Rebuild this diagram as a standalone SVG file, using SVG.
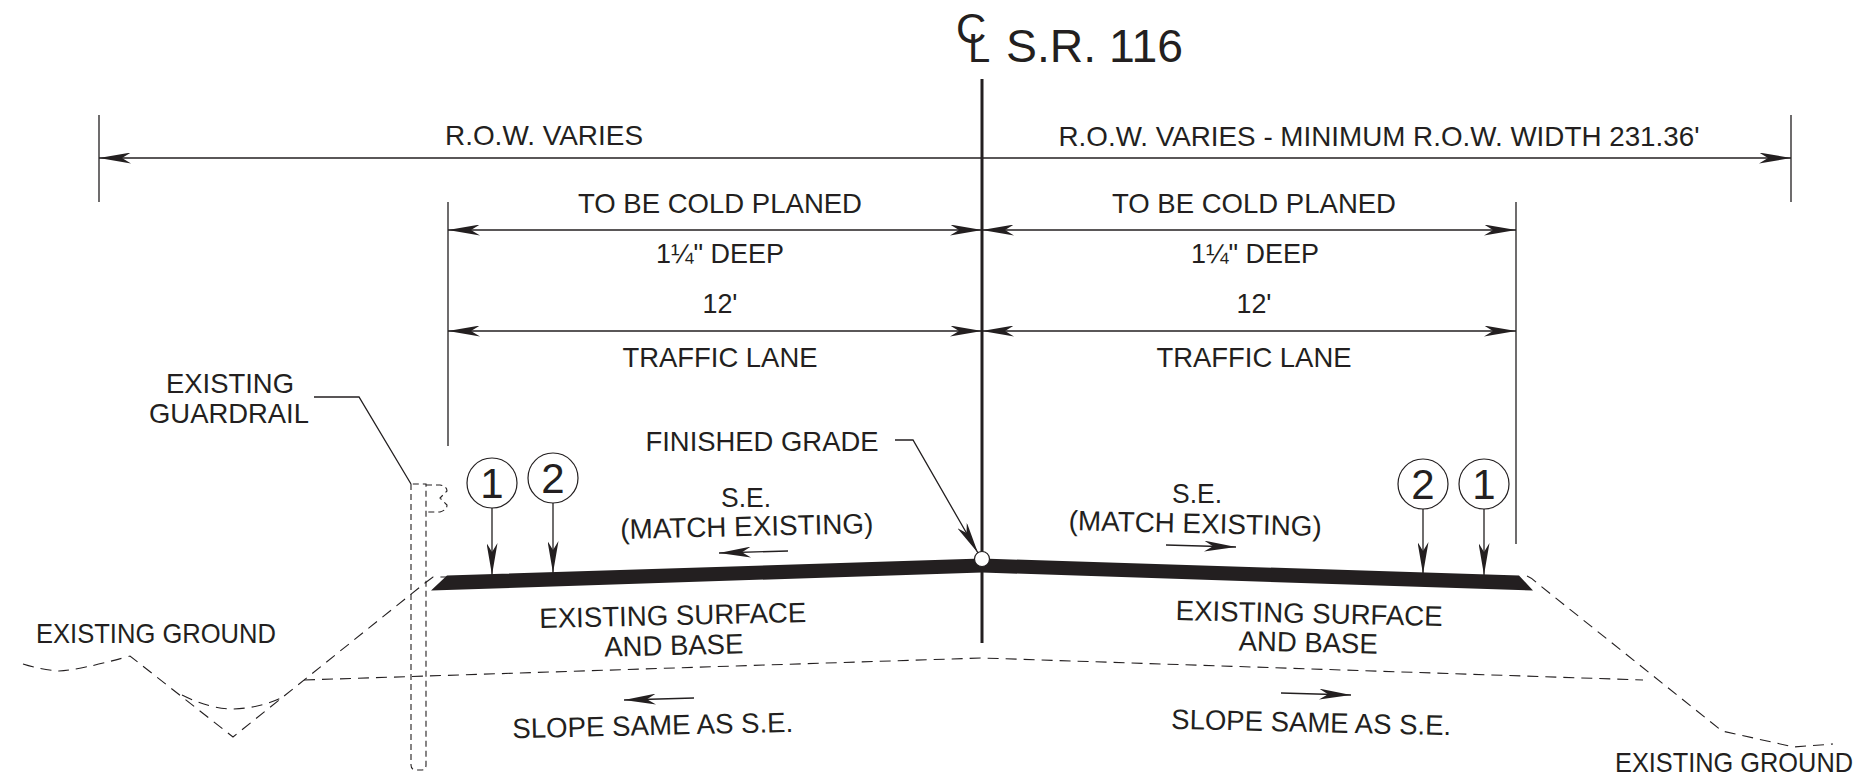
<svg xmlns="http://www.w3.org/2000/svg" width="1862" height="780" viewBox="0 0 1862 780">
<style>
text{font-family:"Liberation Sans",Arial,sans-serif;font-size:28px;fill:#231f20;text-anchor:middle}
.l{fill:none;stroke:#231f20;stroke-width:1.3}
.a{marker-end:url(#barb)}
.d{marker-start:url(#barb);marker-end:url(#barb)}
.dash{fill:none;stroke:#231f20;stroke-width:1.1;stroke-dasharray:11 7}
.short{fill:none;stroke:#231f20;stroke-width:1.1;stroke-dasharray:6 4}
.c{fill:#fff;stroke:#231f20;stroke-width:1.2}
.n{font-size:42px}
</style>
<defs>
<marker id="barb" viewBox="0 0 32 11" refX="32" refY="5.5" markerWidth="32" markerHeight="11" markerUnits="userSpaceOnUse" orient="auto-start-reverse">
<path d="M32 5.5L0 0L9 5.5L0 11Z" fill="#231f20"/>
</marker>
</defs>
<rect width="1862" height="780" fill="#fff"/>
<g id="connectors">
<path class="l" d="M99 115V202M1791 115V202M448 202V446M1516 202V544"/>
<line class="l d" x1="99" y1="158" x2="1791" y2="158"/>
<line class="l d" x1="448" y1="230" x2="982" y2="230"/>
<line class="l d" x1="982" y1="230" x2="1516" y2="230"/>
<line class="l d" x1="448" y1="331" x2="982" y2="331"/>
<line class="l d" x1="982" y1="331" x2="1516" y2="331"/>
<line x1="982" y1="79" x2="982" y2="643" stroke="#231f20" stroke-width="3"/>
<path class="l" d="M314 397H359L411 484"/>
<path class="l a" d="M895 440H913L978 553"/>
<line class="l a" x1="492" y1="508" x2="492" y2="575"/>
<line class="l a" x1="553" y1="503" x2="553" y2="573"/>
<line class="l a" x1="1423" y1="509" x2="1423" y2="574"/>
<line class="l a" x1="1484" y1="509" x2="1484" y2="575"/>
<line class="l a" x1="788" y1="551" x2="719" y2="553"/>
<line class="l a" x1="1166" y1="545" x2="1236" y2="547"/>
<line class="l a" x1="694" y1="698" x2="624" y2="700"/>
<line class="l a" x1="1281" y1="693" x2="1351" y2="695"/>
</g>
<g id="pavement">
<path d="M447 575.5L982 558.5L1519 575.5L1533 590.5L982 572.5L431 590.5Z" fill="#231f20"/>
<circle class="c" cx="982" cy="559" r="7.5"/>
</g>
<g id="existing-ground">
<path class="dash" d="M23 664Q42 670 59 671Q80 670 130 656L233 737L425 583L433 577H447"/>
<path class="dash" d="M182 695Q210 709 233 709Q260 708 281 698"/>
<path class="dash" d="M304 680L982 658L1643 680"/>
<path class="dash" d="M1527 576Q1532 578 1537 583L1722 731L1794 747L1833 744"/>
</g>
<g id="guardrail">
<path class="short" d="M411 484V765Q411 770 416 770H421Q426 770 426 765V484H411"/>
<path class="short" d="M426 485H440Q447 486 447 491L440 498L447 505Q447 510 440 512H426"/>
</g>
<g id="callout-1-left"><circle class="c" cx="492" cy="483" r="25"/><text class="n" x="492" y="498">1</text></g>
<g id="callout-2-left"><circle class="c" cx="553" cy="478" r="25"/><text class="n" x="553" y="493">2</text></g>
<g id="callout-2-right"><circle class="c" cx="1423" cy="484" r="25"/><text class="n" x="1423" y="499">2</text></g>
<g id="callout-1-right"><circle class="c" cx="1484" cy="484" r="25"/><text class="n" x="1484" y="499">1</text></g>
<g id="labels">
<text x="956" y="43" style="font-size:42px;text-anchor:start">C</text>
<text x="968" y="62" style="font-size:40px;text-anchor:start">L</text>
<text x="1006" y="62" textLength="177" lengthAdjust="spacingAndGlyphs" style="font-size:46px;text-anchor:start">S.R. 116</text>
<text x="544" y="145" textLength="198" lengthAdjust="spacingAndGlyphs">R.O.W. VARIES</text>
<text x="1379" y="146" textLength="641" lengthAdjust="spacingAndGlyphs">R.O.W. VARIES - MINIMUM R.O.W. WIDTH 231.36'</text>
<text x="720" y="213" textLength="284" lengthAdjust="spacingAndGlyphs">TO BE COLD PLANED</text>
<text x="1254" y="213" textLength="284" lengthAdjust="spacingAndGlyphs">TO BE COLD PLANED</text>
<text x="720" y="263" textLength="128" lengthAdjust="spacingAndGlyphs">1¼" DEEP</text>
<text x="1255" y="263" textLength="128" lengthAdjust="spacingAndGlyphs">1¼" DEEP</text>
<text x="720" y="313" textLength="35" lengthAdjust="spacingAndGlyphs">12'</text>
<text x="1254" y="313" textLength="35" lengthAdjust="spacingAndGlyphs">12'</text>
<text x="720" y="367" textLength="195" lengthAdjust="spacingAndGlyphs">TRAFFIC LANE</text>
<text x="1254" y="367" textLength="195" lengthAdjust="spacingAndGlyphs">TRAFFIC LANE</text>
<text x="230" y="393" textLength="128" lengthAdjust="spacingAndGlyphs">EXISTING</text>
<text x="229" y="423" textLength="160" lengthAdjust="spacingAndGlyphs">GUARDRAIL</text>
<text x="156" y="643" textLength="240" lengthAdjust="spacingAndGlyphs">EXISTING GROUND</text>
<text x="1734" y="772" textLength="238" lengthAdjust="spacingAndGlyphs">EXISTING GROUND</text>
<text x="762" y="451" textLength="233" lengthAdjust="spacingAndGlyphs">FINISHED GRADE</text>
<text x="746" y="507" textLength="50" lengthAdjust="spacingAndGlyphs">S.E.</text>
<text x="747" y="536" textLength="253" lengthAdjust="spacingAndGlyphs" transform="rotate(-1.3 747 536)">(MATCH EXISTING)</text>
<text x="673" y="625" textLength="267" lengthAdjust="spacingAndGlyphs" transform="rotate(-1.3 673 625)">EXISTING SURFACE</text>
<text x="674" y="655" textLength="139" lengthAdjust="spacingAndGlyphs" transform="rotate(-1.3 674 655)">AND BASE</text>
<text x="653" y="735" textLength="281" lengthAdjust="spacingAndGlyphs" transform="rotate(-1.3 653 735)">SLOPE SAME AS S.E.</text>
<text x="1197" y="503" textLength="50" lengthAdjust="spacingAndGlyphs">S.E.</text>
<text x="1195" y="533" textLength="253" lengthAdjust="spacingAndGlyphs" transform="rotate(1.3 1195 533)">(MATCH EXISTING)</text>
<text x="1309" y="623" textLength="267" lengthAdjust="spacingAndGlyphs" transform="rotate(1.3 1309 623)">EXISTING SURFACE</text>
<text x="1308" y="652" textLength="139" lengthAdjust="spacingAndGlyphs" transform="rotate(1.3 1308 652)">AND BASE</text>
<text x="1311" y="732" textLength="280" lengthAdjust="spacingAndGlyphs" transform="rotate(1.3 1311 732)">SLOPE SAME AS S.E.</text>
</g>
</svg>
